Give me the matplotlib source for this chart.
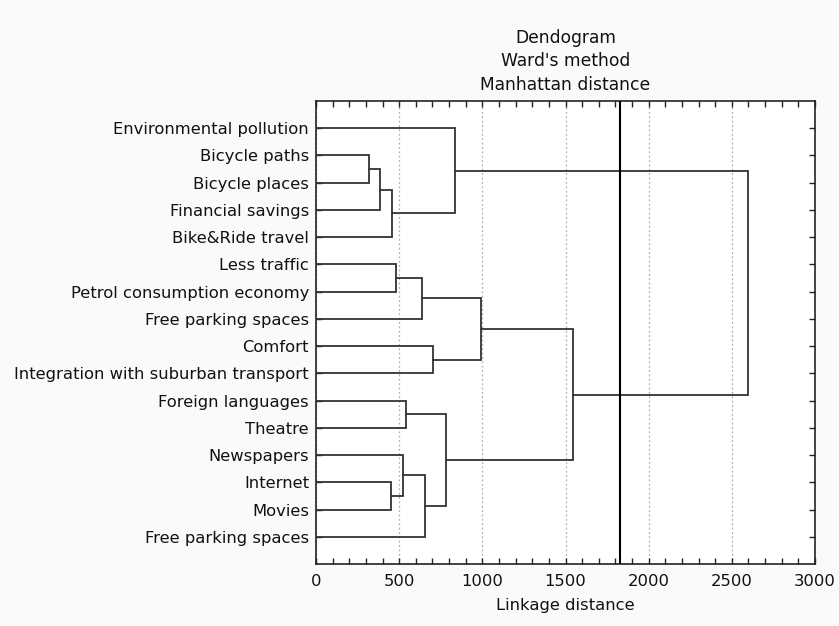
import matplotlib
matplotlib.use("Agg")
import matplotlib.pyplot as plt
from matplotlib.ticker import MultipleLocator

# Leaf labels, top to bottom
labels = [
    "Environmental pollution",
    "Bicycle paths",
    "Bicycle places",
    "Financial savings",
    "Bike&Ride travel",
    "Less traffic",
    "Petrol consumption economy",
    "Free parking spaces",
    "Comfort",
    "Integration with suburban transport",
    "Foreign languages",
    "Theatre",
    "Newspapers",
    "Internet",
    "Movies",
    "Free parking spaces",
]

# Agglomeration steps: children ids (leaves 0..15, new clusters from 16) and linkage distance
merge_left = [1, 16, 17, 0, 5, 20, 8, 21, 10, 13, 12, 26, 24, 23, 19]
merge_right = [2, 3, 4, 18, 6, 7, 9, 22, 11, 14, 25, 15, 27, 28, 29]
merge_height = [317, 387, 459, 836, 479, 639, 703, 990, 541, 451, 521, 657, 782, 1545, 2600]

cut_distance = 1825

plt.rcParams["font.family"] = ["DejaVu Sans"]
fs = 11.8

fig = plt.figure(figsize=(8.39, 6.26), dpi=100, facecolor="#fafafa")
ax = fig.add_axes([316 / 839, 1 - 564 / 626, (815 - 316) / 839, (564 - 101) / 626])
ax.set_facecolor("white")

n = len(labels)
pos = {i: i + 1.0 for i in range(n)}
height = {i: 0.0 for i in range(n)}

line_color = "#333333"
for k, (a, b, h) in enumerate(zip(merge_left, merge_right, merge_height)):
    node = n + k
    ya, yb = pos[a], pos[b]
    ax.plot([height[a], h, h, height[b]], [ya, ya, yb, yb],
            color=line_color, lw=1.3, solid_joinstyle="miter", zorder=3)
    pos[node] = (ya + yb) / 2
    height[node] = h

ax.axvline(cut_distance, color="black", lw=1.5, zorder=4)

ax.set_xlim(0, 3000)
ax.set_ylim(n + 1, 0)
ax.xaxis.set_major_locator(MultipleLocator(500))
ax.xaxis.set_minor_locator(MultipleLocator(100))
ax.set_yticks(range(1, n + 1))
ax.set_yticklabels(labels)
ax.grid(axis="x", which="major", color="#b0b0b0", ls=(0, (1.5, 2)), lw=0.9)
ax.set_axisbelow(True)

ax.tick_params(axis="both", which="both", direction="in", top=True, right=True,
               length=4, width=1, color="#222222", labelsize=fs, labelcolor="#111111")
ax.tick_params(axis="x", pad=7)
ax.tick_params(axis="y", pad=5)
for s in ax.spines.values():
    s.set_linewidth(1.2)
    s.set_color("#222222")

ax.set_xlabel("Linkage distance", fontsize=fs, color="#111111", labelpad=7)
ax.set_title("Dendogram\nWard's method\nManhattan distance", fontsize=12.3,
             color="#111111", pad=8, linespacing=1.4)

fig.savefig("out.png", dpi=100, facecolor=fig.get_facecolor())
